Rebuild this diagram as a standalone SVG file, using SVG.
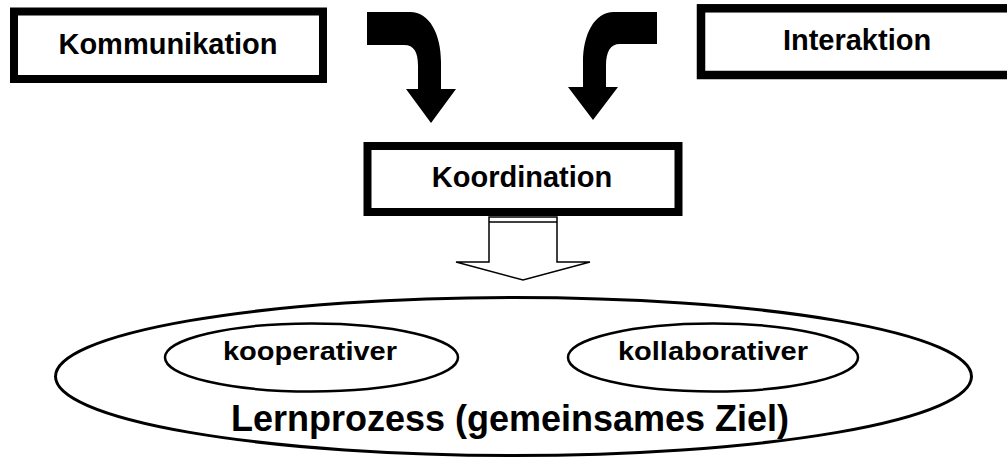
<svg xmlns="http://www.w3.org/2000/svg" width="1007" height="458" viewBox="0 0 1007 458">
  <style>
    .box { fill: #fff; stroke: #000; stroke-width: 8; }
    .ell { fill: none; stroke: #000; stroke-width: 3; }
    .lbl { font-family: "Liberation Sans", Arial, sans-serif; font-weight: bold; fill: #000; text-anchor: middle; }
    .big { font-size: 29px; }
    .small { font-size: 26px; }
    .main { font-size: 36px; }
    .solid { fill: #000; stroke: none; }
    .hollow { fill: #fff; stroke: #000; stroke-width: 1.5; }
  </style>
  <rect width="1007" height="458" fill="#fff"/>

  <g id="kommunikation">
    <rect class="box" x="14" y="11.5" width="309" height="67.5"/>
    <text class="lbl big" x="168" y="54">Kommunikation</text>
  </g>

  <g id="interaktion">
    <rect class="box" x="701" y="8.3" width="320" height="66.7" style="stroke-width:8.5"/>
    <text class="lbl big" x="857" y="50">Interaktion</text>
  </g>

  <g id="koordination">
    <rect class="box" x="367.5" y="146" width="311" height="66"/>
    <text class="lbl big" x="522" y="187">Koordination</text>
  </g>

  <g id="lernprozess">
    <ellipse class="ell" cx="513.5" cy="376.5" rx="458" ry="79"/>
    <text class="lbl main" x="510" y="431">Lernprozess (gemeinsames Ziel)</text>
  </g>

  <g id="kooperativer">
    <ellipse class="ell" cx="311.5" cy="357.5" rx="146.5" ry="34" style="stroke-width:2.5"/>
    <text class="lbl small" x="310" y="360" textLength="174" lengthAdjust="spacingAndGlyphs">kooperativer</text>
  </g>

  <g id="kollaborativer">
    <ellipse class="ell" cx="713" cy="357.5" rx="145" ry="34" style="stroke-width:2.5"/>
    <text class="lbl small" x="713" y="360" textLength="190" lengthAdjust="spacingAndGlyphs">kollaborativer</text>
  </g>

  <g id="connectors">
    <path class="solid" d="M367,12 L410,12 C430,12 441,35 441,62 L441,89 L456,89 L431,123 L406,89 L418,89 L418,66 C418,52 414,45 404,45 L367,45 Z"/>
    <path class="solid" d="M657,12 L614,12 C594,12 583,35 583,62 L583,87 L568,87 L593,120 L618,87 L606,87 L606,66 C606,52 610,44 620,44 L657,44 Z"/>
    <path class="hollow" d="M489,217 L557,217 L557,262 L590,262 L523,280 L456,262 L489,262 Z"/>
    <line x1="489" y1="222" x2="557" y2="222" stroke="#000" stroke-width="1.5"/>
  </g>
</svg>
